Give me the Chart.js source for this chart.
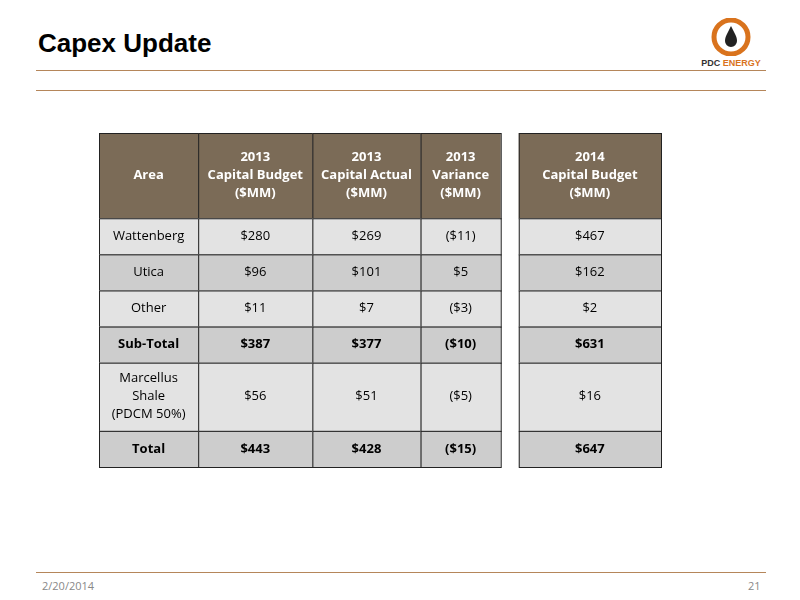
<!DOCTYPE html>
<html><head><meta charset="utf-8">
<script src="https://cdn.jsdelivr.net/npm/chart.js@4"></script>
<style>
body{margin:0;width:800px;height:600px;background:#fff;position:relative;overflow:hidden;font-family:"Liberation Sans",Arial,sans-serif}
#t{position:absolute;left:38px;top:28px;font-size:26px;font-weight:bold;color:#000}
.ln{position:absolute;left:36px;width:730px;height:1px;background:#b5865a}
#d{position:absolute;left:42px;top:578px;font-size:11px;color:#888;font-family:"Open Sans",sans-serif}
#p{position:absolute;left:748px;top:578px;font-size:11px;color:#888;font-family:"Open Sans",sans-serif}
#logo{position:absolute;left:696px;top:18px;width:70px;text-align:center;font-size:9px;font-weight:bold;color:#333}
canvas{position:absolute;left:0;top:0}
</style></head><body>
<div id="t">Capex Update</div>
<div class="ln" style="top:70px"></div><div class="ln" style="top:90px"></div>
<div class="ln" style="top:572px"></div>
<div id="logo"><svg width="40" height="38" viewBox="0 0 40 38"><circle cx="20" cy="19" r="17" fill="none" stroke="#d9731d" stroke-width="5"/><path d="M20 8 C24 16 26 19 26 23 A6 6 0 0 1 14 23 C14 19 16 16 20 8Z" fill="#222"/></svg><br>PDC <span style="color:#d9731d">ENERGY</span></div>
<div id="d">2/20/2014</div><div id="p">21</div>
<canvas id="c" width="800" height="600"></canvas>
<script>
const headers=["Area","2013\nCapital Budget\n($MM)","2013\nCapital Actual\n($MM)","2013\nVariance\n($MM)","2014\nCapital Budget\n($MM)"];
const areas=["Wattenberg","Utica","Other","Sub-Total","Marcellus\nShale\n(PDCM 50%)","Total"];
const budget2013=["$280","$96","$11","$387","$56","$443"];
const actual2013=["$269","$101","$7","$377","$51","$428"];
const variance2013=["($11)","$5","($3)","($10)","($5)","($15)"];
const budget2014=["$467","$162","$2","$631","$16","$647"];
const boldRows=[3,5];
const colEdges=[[0,99],[99,213],[213,321],[321,401],[419,561]];
const rowEdges=[[0,85],[85,121],[121,157],[157,193],[193,229],[229,297],[297,333]];
const cols=[areas,budget2013,actual2013,variance2013,budget2014];
const tablePlugin={id:'tbl',afterDraw(ch){
 const ctx=ch.ctx,xs=ch.scales.x,ys=ch.scales.y;
 colEdges.forEach((ce,ci)=>{
  rowEdges.forEach((re,ri)=>{
   const x0=xs.getPixelForValue(ce[0]),x1=xs.getPixelForValue(ce[1]);
   const y0=ys.getPixelForValue(re[0]),y1=ys.getPixelForValue(re[1]);
   ctx.fillStyle=ri===0?'#7b6b57':(ri%2===1?'#e3e3e3':'#cdcdcd');
   ctx.fillRect(x0,y0,x1-x0,y1-y0);
   ctx.strokeStyle='#222';ctx.lineWidth=1;ctx.strokeRect(x0+0.5,y0+0.5,x1-x0,y1-y0);
   const txt=ri===0?headers[ci]:cols[ci][ri-1];
   const bold=ri===0||boldRows.includes(ri-1);
   ctx.fillStyle=ri===0?'#fff':'#000';
   ctx.font=(bold?'bold ':'')+'13px "Open Sans",sans-serif';
   ctx.textAlign='center';ctx.textBaseline='middle';
   const lines=txt.split('\n'),lh=18,cy=(y0+y1)/2-(lines.length-1)*lh/2;
   lines.forEach((l,i)=>ctx.fillText(l,(x0+x1)/2,cy+i*lh));
  });
 });
}};
new Chart(document.getElementById('c'),{type:'scatter',data:{datasets:[{data:[]}]},
 options:{responsive:false,animation:false,events:[],
  layout:{padding:{left:99,right:139,top:133,bottom:133}},
  plugins:{legend:{display:false},tooltip:{enabled:false}},
  scales:{x:{type:'linear',min:0,max:561,display:false},y:{type:'linear',min:0,max:333,reverse:true,display:false}}},
 plugins:[tablePlugin]});
</script></body></html>
